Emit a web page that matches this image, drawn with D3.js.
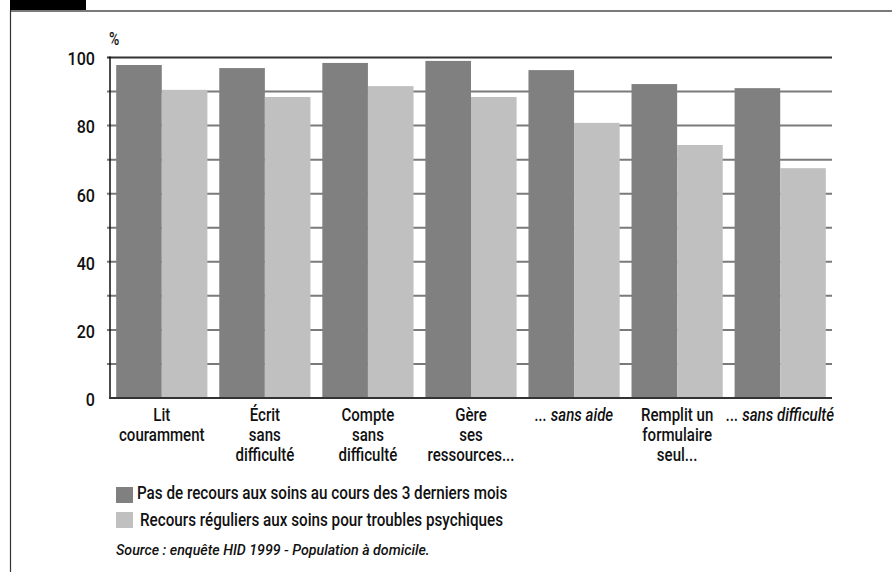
<!DOCTYPE html>
<html>
<head>
<meta charset="utf-8">
<script src="https://cdn.jsdelivr.net/npm/d3@7"></script>
<style>
  html, body { margin: 0; padding: 0; background: #fff; }
  svg { display: block; }
  text { font-family: Roboto, "Liberation Sans", sans-serif; font-weight: 500; fill: #111; }
</style>
</head>
<body>
<svg id="chart" width="892" height="572"></svg>
<script>
// Categories (multi-line labels) and whether the label is set in italics
const categories = [
  ["Lit", "couramment"],
  ["Écrit", "sans", "difficulté"],
  ["Compte", "sans", "difficulté"],
  ["Gère", "ses", "ressources..."],
  ["... sans aide"],
  ["Remplit un", "formulaire", "seul..."],
  ["... sans difficulté"]
];
const italicCategory = [false, false, false, false, true, false, true];

// Series values (%)
const noCareValues      = [97.8, 96.9, 98.4, 99.0, 96.3, 92.2, 91.0];
const regularCareValues = [90.5, 88.4, 91.6, 88.4, 80.8, 74.3, 67.5];

const seriesNames = [
  "Pas de recours aux soins au cours des 3 derniers mois",
  "Recours réguliers aux soins pour troubles psychiques"
];
const seriesColors = ["#808080", "#c0c0c0"];

const yTickLabels = [0, 20, 40, 60, 80, 100];
const yGridValues = [10, 20, 30, 40, 50, 60, 70, 80, 90, 100];

const sourceText = "Source : enquête HID 1999 - Population à domicile.";

// Horizontally condense a text element around its own x anchor
function condense(sel, sx) {
  sel.attr("transform", function () {
    const cx = +this.getAttribute("x") || 0;
    return `translate(${cx * (1 - sx)},0) scale(${sx},1)`;
  });
}

const svg = d3.select("#chart");

// Page frame: black tab, top rule and left rule
svg.append("rect").attr("x", 10).attr("y", 0).attr("width", 76).attr("height", 10).attr("fill", "#000");
svg.append("line").attr("x1", 10).attr("x2", 892).attr("y1", 11).attr("y2", 11)
  .attr("stroke", "#7a7a7a").attr("stroke-width", 2);
svg.append("line").attr("x1", 10.5).attr("x2", 10.5).attr("y1", 10).attr("y2", 572)
  .attr("stroke", "#333").attr("stroke-width", 1.2);

const plot = { left: 110, right: 832, top: 57.5, bottom: 398 };

const x = d3.scaleBand()
  .domain(d3.range(categories.length))
  .range([plot.left, plot.right])
  .paddingInner(0.115)
  .paddingOuter(0.06);

const xs = d3.scaleBand()
  .domain([0, 1])
  .range([0, x.bandwidth()]);

const y = d3.scaleLinear().domain([0, 100]).range([plot.bottom, plot.top]);

// Horizontal gridlines
svg.append("g").selectAll("line")
  .data(yGridValues)
  .join("line")
  .attr("x1", plot.left - 3)
  .attr("x2", plot.right)
  .attr("y1", d => y(d))
  .attr("y2", d => y(d))
  .attr("stroke", d => d === 100 ? "#333" : "#7a7a7a")
  .attr("stroke-width", 2);

// Bars
const series = [noCareValues, regularCareValues];
const groups = svg.append("g").selectAll("g")
  .data(categories.map((c, i) => i))
  .join("g")
  .attr("transform", i => `translate(${x(i)},0)`);

groups.selectAll("rect")
  .data(i => series.map((s, k) => ({ k, v: s[i] })))
  .join("rect")
  .attr("x", d => xs(d.k))
  .attr("width", xs.bandwidth())
  .attr("y", d => y(d.v))
  .attr("height", d => y(0) - y(d.v))
  .attr("fill", d => seriesColors[d.k]);

// Axis lines
svg.append("line").attr("x1", plot.left).attr("x2", plot.left)
  .attr("y1", plot.top - 1).attr("y2", plot.bottom + 1)
  .attr("stroke", "#111").attr("stroke-width", 1.5);
svg.append("line").attr("x1", plot.left - 1).attr("x2", plot.right)
  .attr("y1", plot.bottom).attr("y2", plot.bottom)
  .attr("stroke", "#333").attr("stroke-width", 2);

// Y tick labels
const yAxis = d3.axisLeft(y).tickValues(yTickLabels).tickSize(0).tickPadding(15);
const yg = svg.append("g").attr("transform", `translate(${plot.left},0)`).call(yAxis);
yg.select(".domain").remove();
yg.selectAll("text")
  .attr("font-size", 17.5)
  .attr("font-family", null)
  .attr("fill", "#111")
  .attr("dy", "0.42em")
  .call(condense, 0.92);

svg.append("text").attr("x", 109).attr("y", 45).attr("font-size", 17.5).text("%").call(condense, 0.8);

// X category labels
const xl = svg.append("g").selectAll("text")
  .data(categories.map((c, i) => i))
  .join("text")
  .attr("x", i => x(i) + x.bandwidth() / 2)
  .attr("y", 421.5)
  .attr("text-anchor", "middle")
  .attr("font-size", 17.5)
  .attr("font-style", i => italicCategory[i] ? "italic" : "normal");
xl.selectAll("tspan")
  .data(i => categories[i].map((t, j) => ({ t, j, i })))
  .join("tspan")
  .attr("x", d => x(d.i) + x.bandwidth() / 2)
  .attr("dy", d => d.j === 0 ? 0 : 20)
  .text(d => d.t);
xl.call(condense, 0.86);

// Legend
const legend = svg.append("g");
const legendRows = [{ sy: 487, tx: 137, ty: 499.3 }, { sy: 512, tx: 140, ty: 526 }];
legendRows.forEach((r, k) => {
  legend.append("rect").attr("x", 116).attr("y", r.sy).attr("width", 17).attr("height", 16)
    .attr("fill", seriesColors[k]);
  legend.append("text").attr("x", r.tx).attr("y", r.ty).attr("font-size", 17.5)
    .text(seriesNames[k]).call(condense, 0.87);
});

svg.append("text").attr("x", 116).attr("y", 555).attr("font-size", 14.5)
  .attr("font-style", "italic").text(sourceText).call(condense, 0.98);
</script>
</body>
</html>
